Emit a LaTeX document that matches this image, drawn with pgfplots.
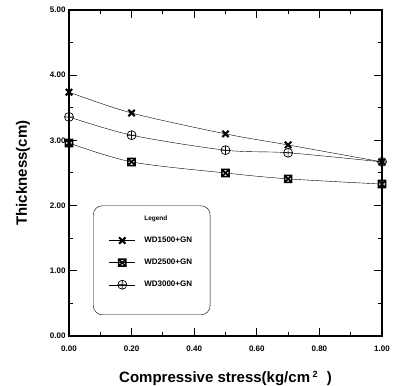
\documentclass[border=0pt]{standalone}
\usepackage{fontspec}
\setmainfont{Liberation Sans}
\usepackage{pgfplots}
\pgfplotsset{compat=1.18}
\usetikzlibrary{plotmarks}
\pgfdeclareplotmark{boxx}{%
  \pgfpathrectangle{\pgfpoint{-\pgfplotmarksize}{-\pgfplotmarksize}}{\pgfpoint{2\pgfplotmarksize}{2\pgfplotmarksize}}%
  \pgfpathmoveto{\pgfpoint{-0.7\pgfplotmarksize}{-0.7\pgfplotmarksize}}%
  \pgfpathlineto{\pgfpoint{0.7\pgfplotmarksize}{0.7\pgfplotmarksize}}%
  \pgfpathmoveto{\pgfpoint{-0.7\pgfplotmarksize}{0.7\pgfplotmarksize}}%
  \pgfpathlineto{\pgfpoint{0.7\pgfplotmarksize}{-0.7\pgfplotmarksize}}%
  \pgfusepathqstroke}
\begin{document}
\begin{tikzpicture}
\begin{axis}[
  scale only axis,
  width=313pt, height=326pt,
  xmin=0, xmax=1, ymin=0, ymax=5,
  xtick={0,0.2,0.4,0.6,0.8,1.0},
  ytick={0,1,2,3,4,5},
  minor xtick={0.1,0.3,0.5,0.7,0.9},
  minor ytick={0.5,1.5,2.5,3.5,4.5},
  tick align=inside,
  major tick length=8pt, minor tick length=4pt,
  every tick/.style={black, line width=1pt},
  axis line style={line width=1.2pt},
  /pgf/number format/assume math mode=true,
  xticklabel style={font=\bfseries\fontsize{8}{9}\selectfont, yshift=-6pt, /pgf/number format/.cd, fixed, fixed zerofill, precision=2},
  yticklabel style={font=\bfseries\fontsize{8}{9}\selectfont, /pgf/number format/.cd, fixed, fixed zerofill, precision=2},
  xlabel={\bfseries Compressive stress(kg/cm\,\raisebox{5pt}{\fontsize{9}{10}\selectfont 2}\,\, )},
  ylabel={\bfseries Thickness(cm)},
  xlabel style={font=\bfseries\fontsize{15}{17}\selectfont, yshift=-13pt},
  ylabel style={font=\bfseries\fontsize{15}{17}\selectfont, yshift=13pt},
  legend style={at={(0.077,0.40)}, anchor=north west, rounded corners=9pt,
    font=\bfseries\fontsize{8}{9}\selectfont, row sep=11pt, inner xsep=16pt, inner ysep=8pt, draw=black},
  legend cell align=left,
  legend image code/.code={\draw[mark repeat=2,mark phase=2] plot coordinates {(0cm,0cm) (0.45cm,0cm) (0.9cm,0cm)};},
]
\coordinate (sw) at (rel axis cs:0,0);
\coordinate (ne) at (rel axis cs:1,1);
\addlegendimage{empty legend}
\addlegendentry{\hspace{7pt}{\fontsize{6.5}{7}\selectfont Legend}}
\addplot[black, thin, smooth, mark=x, mark size=4.5pt, mark options={line width=2pt}]
  coordinates {(0,3.74) (0.2,3.42) (0.5,3.10) (0.7,2.93) (1.0,2.67)};
\addlegendentry{\hspace{7pt}WD1500+GN}
\addplot[black, thin, smooth, mark=boxx, mark size=3.6pt, mark options={line width=1.5pt}]
  coordinates {(0,2.96) (0.2,2.67) (0.5,2.50) (0.7,2.41) (1.0,2.33)};
\addlegendentry{\hspace{7pt}WD2500+GN}
\addplot[black, thin, smooth, mark=oplus, mark size=4.5pt, mark options={line width=0.7pt}]
  coordinates {(0,3.36) (0.2,3.08) (0.5,2.85) (0.7,2.81) (1.0,2.67)};
\addlegendentry{\hspace{7pt}WD3000+GN}
\addlegendimage{empty legend}
\addlegendentry{}
\end{axis}
\pgfresetboundingbox
\path[use as bounding box] ([shift={(-69pt,-50pt)}]sw) rectangle ([shift={(19pt,10pt)}]ne);
\end{tikzpicture}
\end{document}
